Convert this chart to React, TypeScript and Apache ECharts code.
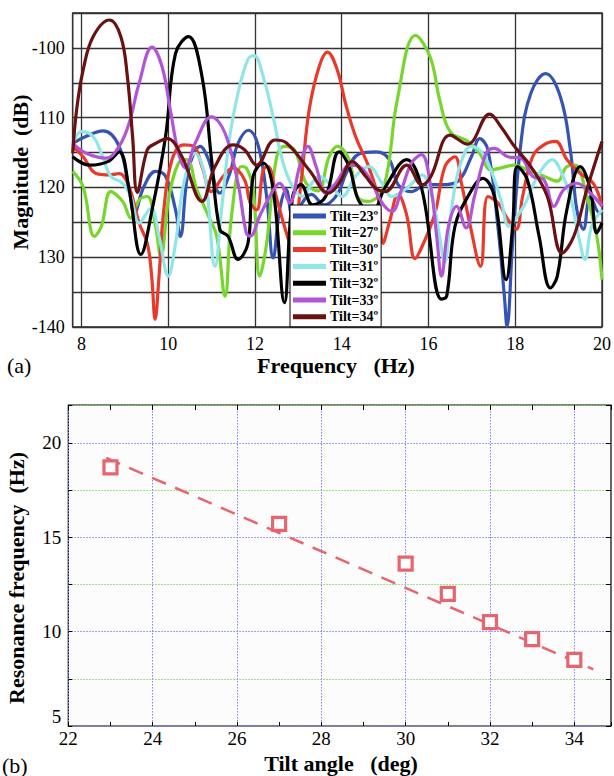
import React, { useEffect, useRef } from 'react';
import * as echarts from 'echarts';

const SERIF = '"Liberation Serif", "Times New Roman", serif';

// ---------- (a) Magnitude vs frequency ----------
const tiltNames = ['Tilt=23º', 'Tilt=27º', 'Tilt=30º', 'Tilt=31º', 'Tilt=32º', 'Tilt=33º', 'Tilt=34º'];
const tiltColors = ['#3553b5', '#77d62c', '#e8392b', '#90e6e6', '#000000', '#b155d6', '#6a1212'];

const tilt23: number[][] = [
  [7.8, -113.7], [8.1, -112.7], [8.5, -111.9], [8.87, -114.1], [9.1, -120.3], [9.22, -123.7], [9.44, -119.9],
  [9.71, -117.7], [9.94, -118.4], [10.17, -123.2], [10.28, -127], [10.47, -117.5], [10.74, -114.1], [10.93, -116],
  [11.19, -120.8], [11.42, -118], [11.61, -113.7], [11.85, -111.8], [12.08, -114.1], [12.27, -121.3], [12.42, -130.1],
  [12.57, -123.2], [12.72, -120.3], [12.87, -124.1], [13.0, -123], [13.3, -121], [13.6, -122.5], [13.9, -121],
  [14.1, -118], [14.4, -115.2], [14.8, -114.9], [15.1, -116], [15.3, -119.6], [15.6, -120.6], [15.95, -119.6],
  [16.3, -119.6], [16.68, -119.1], [16.99, -115.6], [17.18, -113], [17.37, -114.6], [17.6, -125.6], [17.75, -135.6],
  [17.81, -139.9], [17.94, -128], [18.13, -113.7], [18.36, -106.5], [18.7, -103.7], [19.04, -107], [19.27, -114.6],
  [19.42, -123.2], [19.57, -126], [19.73, -121.3], [19.95, -123.7], [20, -123.5],
];
const tilt27: number[][] = [
  [7.8, -117.7], [8.04, -119.9], [8.3, -127], [8.46, -125.6], [8.68, -120.6], [8.95, -122], [9.14, -124.4],
  [9.33, -121.8], [9.52, -121.3], [9.71, -125.6], [9.83, -129.9], [10.02, -121.3], [10.24, -116.5], [10.43, -116],
  [10.66, -120.3], [10.93, -124.1], [11.12, -127], [11.31, -135.6], [11.46, -124.1], [11.69, -117], [11.8, -117.2],
  [11.96, -120.3], [12.11, -132.7], [12.27, -128], [12.49, -116], [12.68, -114.1], [12.91, -114.6], [13.18, -119.4],
  [13.45, -120.5], [13.71, -115.6], [13.9, -114.1], [14.17, -116], [14.36, -121.3], [14.6, -122], [14.97, -119.9],
  [15.28, -107.5], [15.7, -98.2], [16.04, -101.3], [16.26, -107.5], [16.5, -112], [16.91, -113.4], [17.18, -115.1],
  [17.44, -117.5], [17.67, -117.2], [17.98, -116.8], [18.28, -117.5], [18.66, -118.4], [18.97, -119.1],
  [19.19, -117], [19.38, -116.8], [19.65, -121.3], [19.88, -127], [20, -133.2],
];
const tilt30: number[][] = [
  [7.8, -114.1], [8.04, -115.6], [8.34, -118], [8.65, -118.2], [8.87, -118], [9.1, -119.9], [9.33, -125.1],
  [9.52, -128], [9.62, -132.7], [9.7, -138.9], [9.79, -132.7], [9.9, -123.2], [10.09, -116], [10.36, -113.9],
  [10.59, -114.1], [10.78, -117], [11.0, -120.6], [11.27, -118.4], [11.5, -117.2], [11.76, -118.9], [11.89, -122.2],
  [12.04, -123.2], [12.19, -117.5], [12.3, -117], [12.49, -121.3], [12.7, -126], [12.85, -128.5], [13.06, -119.4],
  [13.25, -108.9], [13.48, -102.7], [13.67, -100.6], [13.9, -103.2], [14.09, -108], [14.32, -112.7], [14.62, -117],
  [14.85, -121.8], [14.95, -128], [15.1, -125], [15.3, -121], [15.5, -124], [15.69, -130.2], [15.85, -128.5],
  [16.15, -123.7], [16.38, -117], [16.61, -115.6], [16.76, -119.4], [16.95, -125.1], [17.2, -131.3], [17.37, -121.3],
  [17.6, -122.2], [17.83, -124.6], [18.02, -126], [18.17, -121.3], [18.4, -115.6], [18.66, -113.9], [18.93, -113.4],
  [19.19, -116], [19.5, -118], [19.8, -119.4], [20, -122.7],
];
const tilt31: number[][] = [
  [7.8, -113.7], [8.0, -112], [8.27, -112.7], [8.49, -115.6], [8.68, -118.4], [8.95, -119.4], [9.14, -121.3],
  [9.33, -125.1], [9.6, -123], [9.79, -127], [10.0, -132.7], [10.17, -128], [10.36, -119.4], [10.62, -115.1],
  [10.85, -118.4], [11.08, -131.3], [11.23, -123.2], [11.42, -112.7], [11.61, -106.5], [11.84, -101.6], [11.98, -101.1],
  [12.19, -104.1], [12.42, -109.9], [12.65, -116.5], [12.87, -119.9], [13.1, -121.3], [13.3, -119.5], [13.48, -118.4],
  [13.71, -119.4], [14.01, -121.3], [14.32, -118.4], [14.62, -117], [14.93, -119.4], [15.16, -121.3], [15.54, -119.9],
  [15.85, -118.2], [16.08, -121.3], [16.27, -127.5], [16.37, -130.8], [16.53, -123.2], [16.72, -117], [16.99, -114.1],
  [17.22, -114.9], [17.44, -117.5], [17.67, -121.8], [17.86, -125.6], [18.05, -124.1], [18.24, -122.2], [18.43, -119.4],
  [18.66, -117], [18.85, -116], [19.04, -117.5], [19.27, -121.3], [19.46, -127], [19.61, -130.3], [19.76, -125.6],
  [20, -123.2],
];
const tilt32: number[][] = [
  [7.8, -115.6], [8.19, -116.8], [8.61, -116.3], [8.87, -114.9], [9.1, -120.3], [9.37, -129.6], [9.63, -123.2],
  [9.94, -112.7], [10.17, -100.8], [10.47, -98.4], [10.78, -104.1], [11.0, -116], [11.19, -126], [11.38, -127],
  [11.61, -130.3], [11.84, -128], [11.96, -118.4], [12.19, -116.5], [12.42, -120.3], [12.68, -136.5], [12.87, -121.3],
  [13.06, -119.6], [13.33, -122.5], [13.63, -121.3], [13.94, -114.9], [14.17, -117], [14.4, -122], [14.7, -123.5],
  [15.0, -120], [15.5, -116], [15.85, -120.3], [16.3, -136], [16.42, -135.6], [16.61, -125.6], [16.91, -121.3],
  [17.25, -118.7], [17.52, -121.3], [17.79, -133.2], [17.94, -125.6], [18.05, -117], [18.28, -118.9], [18.55, -127],
  [18.81, -134.4], [18.97, -132.7], [19.19, -123.2], [19.5, -117], [19.73, -120.3], [19.88, -126.5], [20, -125.1],
];
const tilt33: number[][] = [
  [7.8, -113.7], [8.11, -115.1], [8.57, -115.8], [8.87, -114.1], [9.1, -110.8], [9.33, -105.1], [9.63, -99.9],
  [9.86, -102.7], [10.05, -108.9], [10.24, -115.1], [10.4, -117.2], [10.62, -113.7], [11.0, -109.9], [11.31, -112.2],
  [11.61, -119.4], [11.8, -126.5], [11.89, -127], [12.11, -124.1], [12.34, -121.3], [12.57, -119.4], [12.8, -122.2],
  [13.03, -117], [13.22, -114.1], [13.41, -117], [13.63, -120.8], [13.85, -119.5], [14.2, -116.8], [14.4, -117],
  [14.66, -118.9], [14.93, -122.2], [15.16, -123.4], [15.38, -120.3], [15.61, -116.5], [15.84, -115.3], [16.04, -119.4],
  [16.19, -127], [16.3, -132.7], [16.46, -125.6], [16.65, -122.7], [16.87, -125.8], [17.06, -121.3], [17.33, -115.1],
  [17.52, -114.4], [17.83, -115.6], [18.13, -115.8], [18.4, -118.4], [18.66, -118.9], [18.89, -122.7], [19.12, -120.3],
  [19.42, -119.4], [19.73, -120.8], [20, -122.7],
];
const tilt34: number[][] = [
  [7.8, -115.1], [7.89, -108.9], [8.04, -103.2], [8.27, -98.4], [8.65, -96], [8.91, -98.4], [9.06, -104.1],
  [9.18, -112.7], [9.29, -120.7], [9.52, -114.6], [9.71, -113.7], [9.98, -113], [10.32, -115.6], [10.78, -122],
  [11.08, -117], [11.5, -113.9], [11.76, -114.6], [12.04, -116.8], [12.46, -113.2], [12.72, -113.6], [13.25, -117.5],
  [13.7, -120.8], [13.94, -119.4], [14.24, -116.3], [14.55, -118.4], [14.78, -120.1], [15.0, -120.6], [15.5, -116.8],
  [15.85, -119.6], [16.05, -118.5], [16.5, -112.5], [16.9, -113.8], [17.41, -109.5], [17.67, -111.3], [17.98, -114.1],
  [18.36, -117], [18.74, -121.3], [19.08, -129.4], [19.35, -127], [19.65, -120.3], [20, -113.4],
];
const tiltSeries = [tilt23, tilt27, tilt30, tilt31, tilt32, tilt33, tilt34];

// ---------- (b) Resonance frequency vs tilt ----------
const tiltAngles = [23, 27, 30, 31, 32, 33, 34];
const resonanceHz = [18.7, 15.7, 13.6, 12.0, 10.5, 9.6, 8.5];
const fitX = [22.9, 34.45];
const fitY = [19.2, 8.0];

const intLabel = (v: number) => (Number.isInteger(v) ? String(v) : '');

function buildOption(): any {
  const lineSeries = tiltSeries.map((d, i) => ({
    type: 'line',
    name: tiltNames[i],
    xAxisIndex: 0,
    yAxisIndex: 0,
    data: d,
    smooth: 0.4,
    showSymbol: false,
    symbol: 'none',
    lineStyle: { width: 3.2, color: tiltColors[i] },
    itemStyle: { color: tiltColors[i] },
    z: 3,
  }));

  return {
    animation: false,
    backgroundColor: '#ffffff',
    textStyle: { fontFamily: SERIF },
    grid: [
      { left: 72.7, top: 13, width: 534, height: 314, show: true, borderColor: '#222', borderWidth: 1.3, backgroundColor: 'transparent' },
      { left: 68.3, top: 405, width: 545, height: 321, show: true, borderColor: '#000', borderWidth: 1.2, backgroundColor: '#fcfcfc' },
    ],
    legend: {
      orient: 'vertical',
      left: 290,
      top: 205,
      padding: [4, 3, 3, 3],
      itemGap: 2.8,
      itemWidth: 33,
      itemHeight: 5,
      icon: 'rect',
      backgroundColor: '#ffffff',
      borderColor: '#000',
      borderWidth: 1,
      borderRadius: 0,
      textStyle: { fontFamily: SERIF, fontWeight: 'bold', fontSize: 14, color: '#000', lineHeight: 14, padding: [0, 0, 0, -1] },
      data: tiltNames,
      z: 10,
    },
    xAxis: [
      {
        gridIndex: 0, type: 'value', min: 7.8, max: 20, splitNumber: 6,
        axisLine: { show: false }, axisTick: { show: false },
        axisLabel: { formatter: intLabel, fontFamily: SERIF, fontSize: 18, color: '#000', margin: 8 },
        splitLine: { show: true, lineStyle: { color: '#333', width: 1.3 } },
      },
      {
        gridIndex: 1, type: 'value', min: 22, max: 34.87, interval: 1, position: 'bottom',
        axisLine: { show: false },
        axisTick: { show: true, inside: true, length: 4, lineStyle: { color: '#000', width: 1 } },
        axisLabel: { formatter: (v: number) => (Number.isInteger(v) && v % 2 === 0 ? String(v) : ''), fontFamily: SERIF, fontSize: 19, color: '#000', margin: 3 },
        splitLine: { show: true, lineStyle: { color: ['#8282ff', 'rgba(0,0,0,0)'], width: 1, type: [1.5, 1.5] } },
      },
      {
        gridIndex: 1, type: 'value', min: 22, max: 34.87, interval: 1, position: 'top',
        axisLine: { show: false },
        axisTick: { show: true, inside: true, length: 5, lineStyle: { color: '#000', width: 1 } },
        axisLabel: { show: false },
        splitLine: { show: false },
      },
    ],
    yAxis: [
      {
        gridIndex: 0, type: 'value', min: -140, max: -95, interval: 5,
        axisLine: { show: false }, axisTick: { show: false },
        axisLabel: {
          formatter: (v: number) => (v % 10 !== 0 ? '' : v === -100 || v === -140 ? String(v) : String(-v)),
          fontFamily: SERIF, fontSize: 18, color: '#000', margin: 8,
        },
        splitLine: { show: true, lineStyle: { color: '#333', width: 1.3 } },
      },
      {
        gridIndex: 1, type: 'value', min: 5, max: 22, interval: 2.5,
        axisLine: { show: false },
        axisTick: { show: true, inside: true, length: 4, lineStyle: { color: '#000', width: 1 } },
        axisLabel: {
          formatter: (v: number) => (v % 5 === 0 ? String(v) : ''),
          fontFamily: SERIF, fontSize: 19, color: '#000', margin: 7,
          verticalAlignMinLabel: 'bottom',
        },
        splitLine: { show: true, lineStyle: { color: ['#8282ff', '#77dd55'], width: 1, type: [1.5, 1.5] } },
      },
      {
        gridIndex: 1, type: 'value', min: 5, max: 22, interval: 2.5, position: 'right',
        axisLine: { show: false },
        axisTick: { show: true, inside: true, length: 5, lineStyle: { color: '#000', width: 1 } },
        axisLabel: { show: false },
        splitLine: { show: false },
      },
    ],
    series: [
      ...lineSeries,
      {
        type: 'line',
        name: 'fit',
        xAxisIndex: 1,
        yAxisIndex: 1,
        data: fitX.map((x, i) => [x, fitY[i]]),
        showSymbol: false,
        symbol: 'none',
        lineStyle: { color: '#e8646e', width: 2.5, type: [15, 10] },
        z: 3,
      },
      {
        type: 'scatter',
        name: 'resonance',
        xAxisIndex: 1,
        yAxisIndex: 1,
        data: tiltAngles.map((x, i) => [x, resonanceHz[i]]),
        symbol: 'rect',
        symbolSize: 13,
        itemStyle: { color: '#ffffff', borderColor: '#e8646e', borderWidth: 3.2, opacity: 1 },
        z: 4,
      },
    ],
    graphic: [
      { type: 'text', x: 20, y: 172, rotation: Math.PI / 2, style: { text: 'Magnitude  (dB)', font: `bold 22px ${SERIF}`, fill: '#000', textAlign: 'center', textVerticalAlign: 'middle' } },
      { type: 'text', x: 336, y: 365, style: { text: 'Frequency   (Hz)', font: `bold 22px ${SERIF}`, fill: '#000', textAlign: 'center', textVerticalAlign: 'middle' } },
      { type: 'text', x: 7, y: 365, style: { text: '(a)', font: `22px ${SERIF}`, fill: '#000', textAlign: 'left', textVerticalAlign: 'middle' } },
      { type: 'text', x: 16, y: 578, rotation: Math.PI / 2, style: { text: 'Resonance frequency  (Hz)', font: `bold 22px ${SERIF}`, fill: '#000', textAlign: 'center', textVerticalAlign: 'middle' } },
      { type: 'text', x: 341, y: 763, style: { text: 'Tilt angle   (deg)', font: `bold 22px ${SERIF}`, fill: '#000', textAlign: 'center', textVerticalAlign: 'middle' } },
      { type: 'text', x: 2, y: 765, style: { text: '(b)', font: `22px ${SERIF}`, fill: '#000', textAlign: 'left', textVerticalAlign: 'middle' } },
    ],
  };
}

export default function App() {
  const ref = useRef<HTMLDivElement>(null);
  useEffect(() => {
    if (!ref.current) return;
    const chart = echarts.init(ref.current, null, { renderer: 'svg' });
    chart.setOption(buildOption());
    return () => chart.dispose();
  }, []);
  return (
    <div
      ref={ref}
      style={{ position: 'fixed', left: 0, top: 0, width: 614, height: 776, background: '#fff' }}
    />
  );
}
